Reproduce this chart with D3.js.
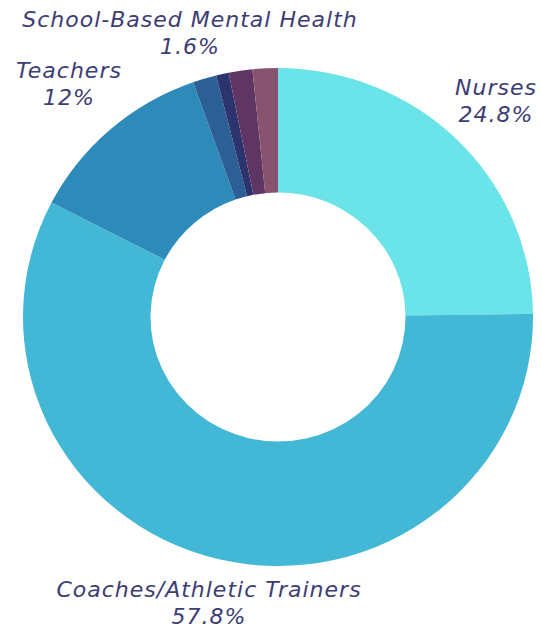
<!DOCTYPE html>
<html>
<head>
<meta charset="utf-8">
<script src="https://cdn.jsdelivr.net/npm/d3@7"></script>
<style>
body{margin:0;background:#fff;}
text{font-family:'DejaVu Sans',sans-serif;font-style:italic;}
</style>
</head>
<body>
<script>
// slices clockwise from 12 o'clock
var categories=['Nurses','Coaches/Athletic Trainers','Teachers','Other 1','Other 2','Other 3','School-Based Mental Health'];
var shares=[24.8,57.8,12,1.5,0.8,1.5,1.6];
var colors=['#6ae4e8','#42b7d6','#2e8bb9','#2d5f97','#2c346e','#5e3563','#87536f'];
var shownLabels=['Nurses','Coaches/Athletic Trainers','Teachers','School-Based Mental Health'];

var width=542;
var height=632;

// where each label block sits (centre x, first baseline y)
var labelSpot={
    'Nurses':[496,95],
    'Coaches/Athletic Trainers':[209,597],
    'Teachers':[69,78],
    'School-Based Mental Health':[190,27]
};

var data=categories.map(function(c,i){
    return {name:c,value:shares[i],color:colors[i]};
});

var svg=d3.select('body')
.append('svg')
.attr('width',width)
.attr('height',height);

var rx=255;
var ry=249;

var pie=d3.pie()
.sort(null)
.value(function(d){return d.value;});

var arc=d3.arc()
.innerRadius(rx*0.5)
.outerRadius(rx);

var ring=svg.append('g')
.attr('transform','translate(278,317) scale(1,'+(ry/rx)+')');

ring.selectAll('path')
.data(pie(data))
.enter()
.append('path')
.attr('d',arc)
.style('fill',function(d){return d.data.color;});

var labelData=data.filter(function(d){return shownLabels.indexOf(d.name)>=0;});

var labels=svg.append('g');

labels.selectAll('text.name')
.data(labelData)
.enter()
.append('text')
.attr('class','name')
.attr('x',function(d){return labelSpot[d.name][0];})
.attr('y',function(d){return labelSpot[d.name][1];})
.text(function(d){return d.name;});

labels.selectAll('text.pct')
.data(labelData)
.enter()
.append('text')
.attr('class','pct')
.attr('x',function(d){return labelSpot[d.name][0];})
.attr('y',function(d){return labelSpot[d.name][1]+27;})
.text(function(d){return d.value+'%';});

labels.selectAll('text')
.attr('text-anchor','middle')
.style('font-size','22px')
.style('letter-spacing','1px')
.style('fill','#3d3d73');
</script>
</body>
</html>
